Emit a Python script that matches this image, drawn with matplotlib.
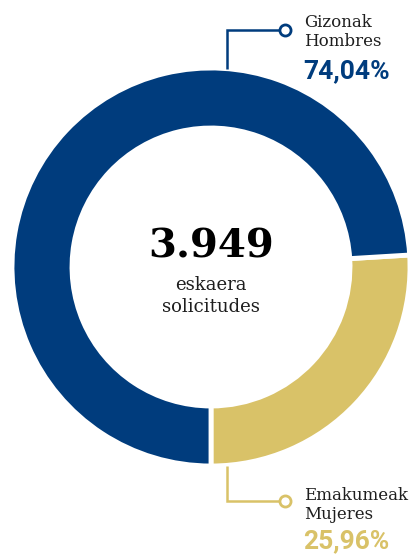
"""Donut chart: eskaerak / solicitudes by sex."""

import matplotlib

matplotlib.use("Agg")
import matplotlib.pyplot as plt

# data
categories = ["Emakumeak\nMujeres", "Gizonak\nHombres"]
shares = [25.96, 74.04]
pct_labels = ["25,96%", "74,04%"]
total_label = "3.949"
total_caption = "eskaera\nsolicitudes"

BLUE = "#003c7d"
GOLD = "#d9c268"
TEXT = "#1e1e1e"

W, H = 418, 554


def py(y):
    # pixel row (from top) -> data y
    return H - y


fig = plt.figure(figsize=(W / 100, H / 100), dpi=100)
ax = fig.add_axes([0, 0, 1, 1])

cx, cy, r_out, ring = 211, py(267), 199, 60
ax.pie(
    shares,
    colors=[GOLD, BLUE],
    startangle=-90,
    counterclock=True,
    radius=r_out,
    center=(cx, cy),
    wedgeprops=dict(width=ring, edgecolor="white", linewidth=3.5),
)

ax.text(cx, py(246), total_label, ha="center", va="center",
        fontsize=29, fontweight="bold", family="DejaVu Serif", color="black")
ax.text(cx, py(296), total_caption, ha="center", va="center",
        fontsize=13, family="DejaVu Serif", color=TEXT, linespacing=1.25)

# leader lines + labels
for cat, pct, col, y0, y1, ty, pty in [
    (categories[1], pct_labels[1], BLUE, 69, 30, 32, 71),
    (categories[0], pct_labels[0], GOLD, 466, 501, 505, 541),
]:
    ax.plot([227, 227, 281], [py(y0), py(y1), py(y1)], color=col, lw=1.8,
            solid_capstyle="butt", solid_joinstyle="miter")
    ax.plot([285], [py(y1)], marker="o", ms=8, mfc="white", mec=col, mew=2)
    ax.text(304, py(ty), cat, ha="left", va="center", fontsize=12,
            family="DejaVu Serif", color=TEXT, linespacing=1.15)
    ax.text(303, py(pty), pct, ha="left", va="center", fontsize=19,
            fontweight="bold", family="Roboto", color=col)

ax.set_xlim(0, W)
ax.set_ylim(0, H)
ax.set_aspect("equal")
ax.axis("off")

fig.savefig("out.png", dpi=100)
